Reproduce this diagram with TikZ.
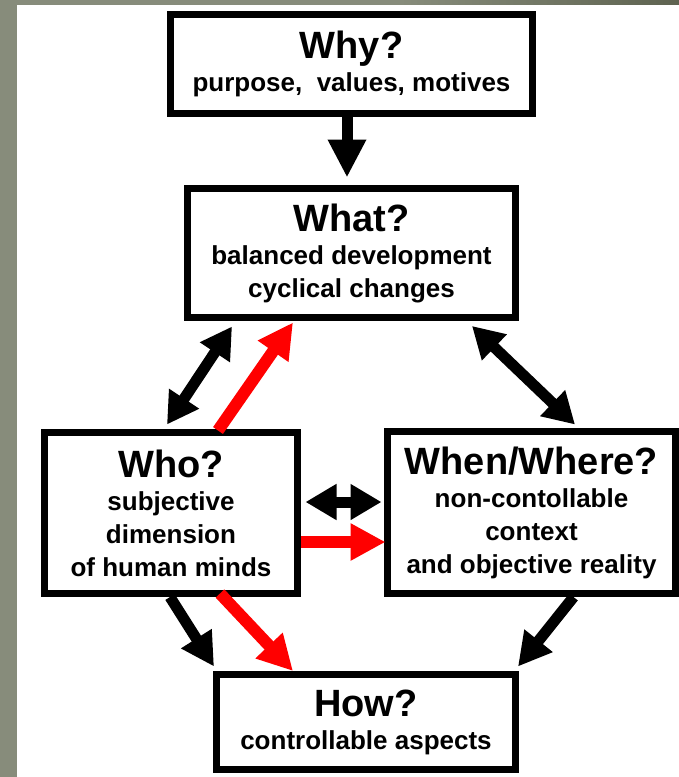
\documentclass[tikz,border=0pt]{standalone}
\usepackage{fontspec}
\setmainfont{Liberation Sans}
\usetikzlibrary{arrows.meta,calc}
\definecolor{bggrey}{HTML}{878C7B}
\definecolor{bgdark}{HTML}{5E6350}
\definecolor{arrred}{HTML}{FF0000}
\newcommand\boxtitle[1]{{\fontsize{38}{38}\selectfont #1}}
\begin{document}
\begin{tikzpicture}[x=1pt,y=-1pt,
  box/.style={draw=black, fill=white, line width=7pt, align=center, inner sep=0pt,
    font=\bfseries\fontsize{26}{33}\selectfont},
  blk/.style={draw=black, line width=11pt, -{Triangle[length=33pt,width=34pt]}},
  blkbig/.style={draw=black, line width=11pt, -{Triangle[length=38pt,width=36pt]}},
  blkboth/.style={draw=black, line width=11pt,
    {Triangle[length=31pt,width=34pt]}-{Triangle[length=31pt,width=34pt]}},
  redarr/.style={draw=arrred, line width=12pt, -{Triangle[length=35pt,width=35pt]}}]
\useasboundingbox (0,0) rectangle (679,777);
\fill[bggrey] (0,0) rectangle (679,777);
\shade[left color=bggrey, right color=bgdark] (400,0) rectangle (679,5);
\fill[white] (17,5) rectangle (679,777);

\node[box, minimum width=362pt, minimum height=99pt] (why) at (351.5,64)
  {\boxtitle{Why?}\\purpose,\ \ values, motives};
\node[box, minimum width=328pt, minimum height=129pt] (what) at (351.5,253)
  {\boxtitle{What?}\\balanced development\\cyclical changes};
\node[box, minimum width=253pt, minimum height=161pt] (who) at (171,513)
  {\boxtitle{Who?}\\subjective\\dimension\\of human minds};
\node[box, minimum width=288pt, minimum height=162pt] (when) at (531.5,512.5)
  {\boxtitle{When/Where?}\\non-contollable\\context\\and objective reality};
\node[box, minimum width=299pt, minimum height=95pt] (how) at (366,722)
  {\boxtitle{How?}\\controllable aspects};

\draw[blkbig] ($(why.south)+(-4.5,0)$) -- ($(what.north)+(-4.5,-7.5)$);
\draw[blkboth] ($(what.south)+(-119.5,5.5)$) -- ($(who.north)+(-4,-4.5)$);
\draw[blkboth] ($(what.south)+(120.5,5)$) -- ($(when.north)+(43.5,-3.5)$);
\draw[blkboth] ($(who.east)+(4.5,-11)$) -- ($(when.west)+(-2.5,-10.5)$);
\draw[blk] ($(who.south)+(-1,0)$) -- ($(how.north)+(-152,-4.5)$);
\draw[blk] ($(when.south)+(42,0)$) -- ($(how.north)+(152,-4.5)$);
\draw[redarr] ($(who.north)+(47,1.5)$) -- ($(what.south)+(-58.5,1.5)$);
\draw[redarr] ($(who.east)+(0,29)$) -- ($(when.west)+(1.5,29.5)$);
\draw[redarr] ($(who.south)+(49,-3.5)$) -- ($(how.north)+(-73,0)$);
\end{tikzpicture}
\end{document}
